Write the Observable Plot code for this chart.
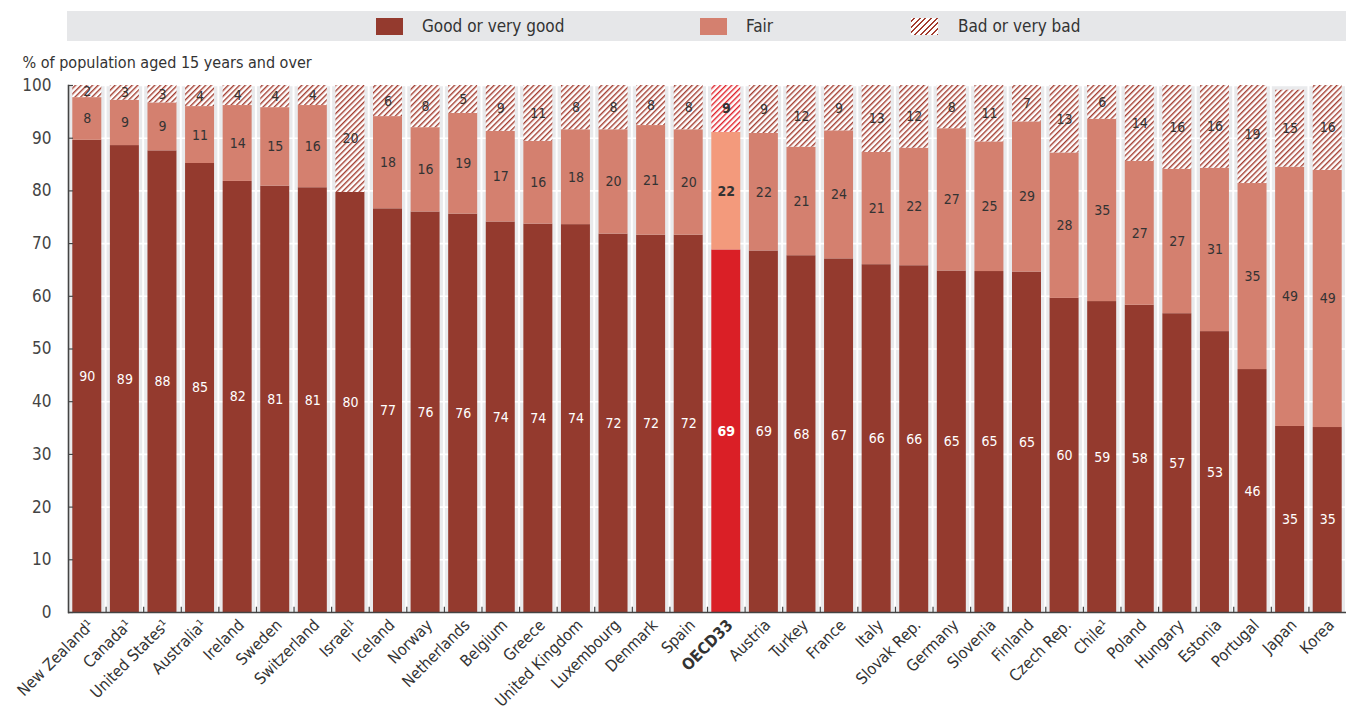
<!DOCTYPE html>
<html>
<head>
<meta charset="utf-8">
<script src="https://cdn.jsdelivr.net/npm/d3@7"></script>
<script src="https://cdn.jsdelivr.net/npm/@observablehq/plot@0.6"></script>
<style>
  html, body { margin: 0; padding: 0; background: #fff; overflow: hidden; }
  body { font-family: "Liberation Sans Narrow", "DejaVu Sans Condensed", "Roboto", sans-serif; }
  #legend { position: relative; width: 1346px; height: 41px; }
  #legend .box { position: absolute; left: 67px; top: 11px; width: 1279px; height: 30px; background: #e6e7e9; }
  #legend .sw { position: absolute; top: 18px; width: 27px; height: 17px; }
  #legend .lab { position: absolute; top: 13px; font-size: 17px; color: #333; line-height: 26px; }
  #chart svg { display: block; }
</style>
</head>
<body>
<div id="legend">
  <div class="box"></div>
  <div class="sw" style="left:376px;background:#943a2e"></div>
  <div class="lab" style="left:422px">Good or very good</div>
  <div class="sw" style="left:700px;background:#d4806f"></div>
  <div class="lab" style="left:746px">Fair</div>
  <div class="sw" style="left:911px;background:repeating-linear-gradient(-45deg,#a33d30 0 1.4px,#fff 1.4px 4px)"></div>
  <div class="lab" style="left:958px">Bad or very bad</div>
</div>
<div id="chart"></div>
<script>
const categories = ["New Zealand¹","Canada¹","United States¹","Australia¹","Ireland","Sweden","Switzerland","Israel¹","Iceland","Norway","Netherlands","Belgium","Greece","United Kingdom","Luxembourg","Denmark","Spain","OECD33","Austria","Turkey","France","Italy","Slovak Rep.","Germany","Slovenia","Finland","Czech Rep.","Chile¹","Poland","Hungary","Estonia","Portugal","Japan","Korea"];
const good = [89.6,88.6,87.6,85.2,81.8,80.9,80.6,79.7,76.6,76.0,75.6,74.1,73.7,73.6,71.8,71.6,71.6,68.8,68.6,67.7,67.1,66.0,65.8,64.8,64.7,64.6,59.6,59.0,58.3,56.7,53.3,46.1,35.3,35.1];
const fair = [8.1,8.6,9.1,10.8,14.4,14.9,15.6,0,17.5,16.0,19.1,17.2,15.7,18.0,19.8,20.8,20.0,22.3,22.3,20.6,24.3,21.3,22.3,27.0,24.6,28.5,27.6,34.6,27.3,27.4,31.0,35.3,49.2,48.8];
const bad = [2.3,2.8,3.3,4.0,3.8,4.2,3.8,20.3,5.9,8.0,5.3,8.7,10.6,8.4,8.4,7.6,8.4,8.9,9.1,11.7,8.6,12.7,11.9,8.2,10.7,6.9,12.8,6.4,14.4,15.9,15.7,18.6,14.6,16.1];
const seriesNames = ["Good or very good","Fair","Bad or very bad"];
const yTicks = [0,10,20,30,40,50,60,70,80,90,100];
const highlight = "OECD33";

// long table built from the arrays
const rows = [];
categories.forEach((c, i) => {
  const vals = [good[i], fair[i], bad[i]];
  let base = 0;
  vals.forEach((v, s) => {
    rows.push({category: c, series: seriesNames[s], value: v, y1: base, y2: base + v, mid: base + v / 2});
    base += v;
  });
});
const shown = rows.filter(d => d.value > 0);

const W = 1346, H = 680, ML = 68, MR = 0;
const bw = (W - ML - MR) / categories.length;

function fillFor(d) {
  const hi = d.category === highlight;
  if (d.series === seriesNames[0]) return hi ? "#da1f26" : "#943a2e";
  if (d.series === seriesNames[1]) return hi ? "#f39a7c" : "#d4806f";
  return hi ? "url(#hatchRed)" : "url(#hatch)";
}
const labelFill = d => d.series === seriesNames[0] ? "#fff" : "#333";

const plot = Plot.plot({
  width: W,
  height: H,
  marginLeft: ML,
  marginRight: MR,
  marginTop: 44,
  marginBottom: 109,
  style: {fontFamily: '"Liberation Sans Narrow", "DejaVu Sans Condensed", sans-serif', background: "#fff", overflow: "visible"},
  x: {domain: categories, padding: 0, round: false, label: null},
  y: {domain: [0, 100], label: null},
  marks: [
    // gray column backgrounds
    Plot.barY(categories, {x: d => d, y1: 0, y2: 100, fill: "#e9eaec", insetLeft: 1, insetRight: 1}),
    // white gridlines
    Plot.ruleY(yTicks.filter(t => t > 0), {y: d => d, stroke: "#fff", strokeWidth: 1.6}),
    // stacked bars
    Plot.barY(shown, {x: "category", y1: "y1", y2: "y2", fill: fillFor, insetLeft: 4.3, insetRight: 4.3}),
    // value labels
    Plot.text(shown.filter(d => d.category !== highlight), {
      x: "category", y: "mid", text: d => String(Math.round(d.value)),
      fill: labelFill, fontSize: 14
    }),
    Plot.text(shown.filter(d => d.category === highlight), {
      x: "category", y: "mid", text: d => String(Math.round(d.value)),
      fill: labelFill, fontSize: 14, fontWeight: "bold"
    }),
    // axes
    Plot.axisY({ticks: yTicks, tickSize: 0, tickPadding: 17, fontSize: 17, color: "#444", label: null}),
    Plot.tickY(yTicks, {x: () => categories[0], y: d => d, stroke: "#444", strokeWidth: 1.2, insetRight: bw - 5}),
    Plot.frame({anchor: "left", stroke: "#444", strokeWidth: 1.6}),
    Plot.ruleY([0], {stroke: "#444", strokeWidth: 1.6}),
    Plot.ruleX(categories.slice(0, -1), {x: d => d, y1: 0, y2: 1, dx: bw / 2, stroke: "#444", strokeWidth: 1.2}),
    Plot.axisX({tickSize: 0, tickRotate: -45, tickPadding: 10, fontSize: 16, color: "#333", label: null, dx: 4}),
    // y-axis caption
    Plot.text(["% of population aged 15 years and over"], {frameAnchor: "top-left", dx: -46, dy: -29, textAnchor: "start", fontSize: 16, fill: "#333"})
  ]
});

const svg = d3.select(plot);
svg.insert("defs", ":first-child").html(`
  <pattern id="hatch" patternUnits="userSpaceOnUse" width="4" height="4" patternTransform="rotate(45)">
    <rect width="4" height="4" fill="#fff"/>
    <line x1="0.7" y1="0" x2="0.7" y2="4" stroke="#a33d30" stroke-width="1.4"/>
  </pattern>
  <pattern id="hatchRed" patternUnits="userSpaceOnUse" width="4" height="4" patternTransform="rotate(45)">
    <rect width="4" height="4" fill="#fff"/>
    <line x1="0.7" y1="0" x2="0.7" y2="4" stroke="#e0222a" stroke-width="1.4"/>
  </pattern>`);
svg.selectAll("text").filter(function() { return this.textContent === highlight; })
   .attr("font-weight", "bold").style("font-weight", "bold");

document.getElementById("chart").appendChild(plot);
</script>
</body>
</html>
